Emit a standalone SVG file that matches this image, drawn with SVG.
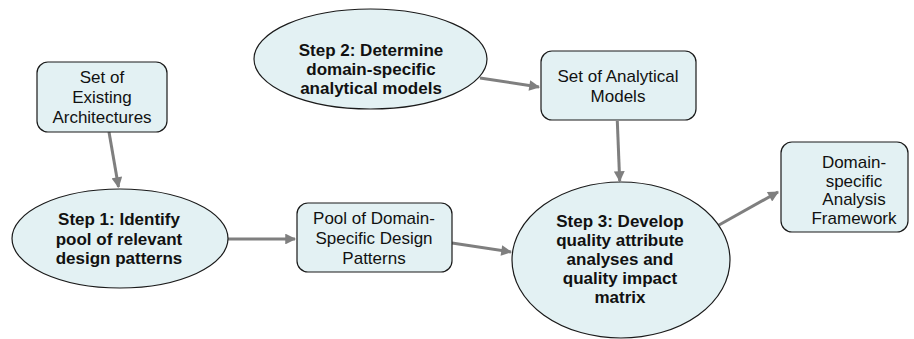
<svg xmlns="http://www.w3.org/2000/svg" width="914" height="339" viewBox="0 0 914 339">
<style>
.box{fill:#e3f1f3;stroke:#1a1a1a;stroke-width:1.2}
.t{font-family:"Liberation Sans",Arial,sans-serif;font-size:17px;fill:#111;text-anchor:middle}
.b{font-weight:bold}
.c{stroke:#7f7f7f;stroke-width:3;fill:none;marker-end:url(#ah)}
</style>
<defs>
<marker id="ah" viewBox="0 0 10 10" refX="9" refY="5" markerWidth="4" markerHeight="3.6" orient="auto" markerUnits="strokeWidth">
<path d="M0,0 L10,5 L0,10 z" fill="#7f7f7f"/>
</marker>
</defs>
<rect width="914" height="339" fill="#fff"/>
<g id="connectors">
<line class="c" x1="109" y1="132" x2="118.5" y2="187"/>
<line class="c" x1="480" y1="78" x2="539" y2="87"/>
<line class="c" x1="617.3" y1="121" x2="619.7" y2="181"/>
<line class="c" x1="228" y1="239" x2="295" y2="239"/>
<line class="c" x1="452" y1="243" x2="511" y2="252"/>
<line class="c" x1="719" y1="225" x2="778" y2="192"/>
</g>
<g id="existing">
<rect class="box" x="37" y="62" width="130" height="70" rx="11"/>
<text class="t" x="102" y="83">Set of</text>
<text class="t" x="102" y="103">Existing</text>
<text class="t" x="102" y="123">Architectures</text>
</g>
<g id="step2">
<ellipse class="box" cx="370.5" cy="59" rx="116.5" ry="50"/>
<text class="t b" x="371" y="56">Step 2: Determine</text>
<text class="t b" x="371" y="75">domain-specific</text>
<text class="t b" x="371" y="94">analytical models</text>
</g>
<g id="analytical">
<rect class="box" x="541" y="51" width="155" height="69" rx="11"/>
<text class="t" x="618" y="82">Set of Analytical</text>
<text class="t" x="618" y="102">Models</text>
</g>
<g id="step1">
<ellipse class="box" cx="120" cy="238.5" rx="108" ry="49.5"/>
<text class="t b" x="119" y="225">Step 1: Identify</text>
<text class="t b" x="119" y="245">pool of relevant</text>
<text class="t b" x="119" y="264">design patterns</text>
</g>
<g id="pool">
<rect class="box" x="297" y="203" width="155" height="69" rx="11"/>
<text class="t" x="374" y="224">Pool of Domain-</text>
<text class="t" x="374" y="244">Specific Design</text>
<text class="t" x="374" y="264">Patterns</text>
</g>
<g id="step3">
<ellipse class="box" cx="621" cy="260" rx="109" ry="78"/>
<text class="t b" x="620" y="227">Step 3: Develop</text>
<text class="t b" x="620" y="246">quality attribute</text>
<text class="t b" x="620" y="265">analyses and</text>
<text class="t b" x="620" y="284">quality impact</text>
<text class="t b" x="620" y="303">matrix</text>
</g>
<g id="framework">
<rect class="box" x="781" y="142" width="127" height="90" rx="11"/>
<text class="t" x="854" y="168">Domain-</text>
<text class="t" x="854" y="187">specific</text>
<text class="t" x="854" y="205">Analysis</text>
<text class="t" x="854" y="224">Framework</text>
</g>
</svg>
